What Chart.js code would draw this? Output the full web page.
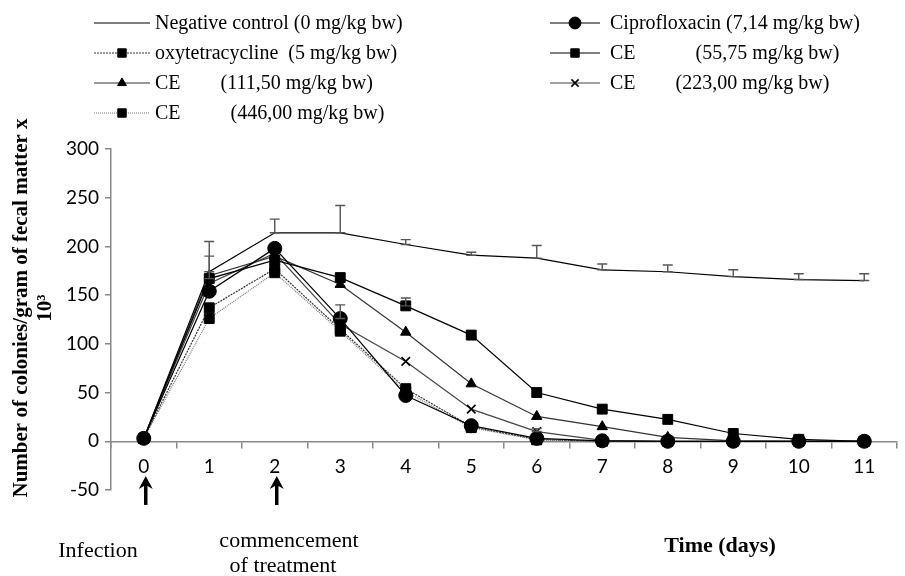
<!DOCTYPE html>
<html>
<head>
<meta charset="utf-8">
<script src="https://cdn.jsdelivr.net/npm/chart.js@4"></script>
<style>
  html, body { margin: 0; padding: 0; background: #fff; }
  #wrap { width: 905px; height: 576px; }
</style>
</head>
<body>
<div id="wrap"><canvas id="chart" width="905" height="576"></canvas></div>
<script>
// days on the x axis
const days = ['0', '1', '2', '3', '4', '5', '6', '7', '8', '9', '10', '11'];

// colonies / g of faecal matter x 10^3
const negControl = [3, 174, 214, 214, 202, 191, 188, 176, 174, 169, 166, 165];
const negControlErr = [0, 31, 14, 28, 5, 3, 13, 6, 7, 7, 6, 7];
const cipro = [3, 154, 198, 126, 47, 16, 3, 0.5, 0, 0, 0, 0];
const ciproErr = [0, 0, 0, 14, 0, 0, 0, 0, 0, 0, 0, 0];
const oxytetra = [3, 137, 177, 115, 54, 15, 2, 0, 0, 0, 0, 0];
const ce5575 = [3, 167, 186, 168, 139, 109, 50, 33, 22.5, 8, 2, 0];
const ce5575Err = [0, 23, 0, 0, 8, 0, 0, 0, 0, 0, 0, 0];
const ce11150 = [3, 170, 190, 161, 112, 59, 25.5, 15, 4, 0.5, 0, 0];
const ce223 = [3, 162, 193, 120, 82, 33, 10, 1, 0, 0, 0, 0];
const ce223Err = [0, 0, 0, 0, 0, 0, 3, 0, 0, 0, 0, 0];
const ce446 = [3, 126, 173, 113, 51, 14, 1.5, 0, 0, 0, 0, 0];

const yTicks = { min: -50, max: 300, step: 50 };

const serif = '"Liberation Serif", "Times New Roman", serif';
const sans = 'Lato, "Open Sans", sans-serif';

// legend drawn by hand in two columns, same order as the figure
const legendCols = [
    { lineFrom: 94, lineTo: 150, textX: 155, items: [0, 2, 4, 6] },
    { lineFrom: 550, lineTo: 600, textX: 610, items: [1, 3, 5] }
];
const legendRowY = [23, 53, 83, 113];

const twoColLegend = {
    id: 'twoColLegend',
    afterDraw(chart) {
        const ctx = chart.ctx;
        ctx.save();
        legendCols.forEach(col => {
            col.items.forEach((dsIndex, row) => {
                const ds = chart.data.datasets[dsIndex];
                const y = legendRowY[row];
                ctx.strokeStyle = ds.borderColor;
                ctx.lineWidth = ds.borderWidth;
                ctx.setLineDash(ds.borderDash || []);
                ctx.beginPath();
                ctx.moveTo(col.lineFrom, y);
                ctx.lineTo(col.lineTo, y);
                ctx.stroke();
                ctx.setLineDash([]);
                if (ds.pointRadius > 0) {
                    ctx.fillStyle = '#000';
                    ctx.strokeStyle = '#000';
                    ctx.lineWidth = ds.pointBorderWidth || 1;
                    Chart.helpers.drawPoint(ctx, {
                        pointStyle: ds.pointStyle,
                        radius: ds.pointRadius * 0.85,
                        rotation: 0,
                        borderWidth: ds.pointBorderWidth || 1
                    }, (col.lineFrom + col.lineTo) / 2, y);
                }
                ctx.fillStyle = '#000';
                ctx.font = '20px ' + serif;
                ctx.textAlign = 'left';
                ctx.textBaseline = 'middle';
                ctx.fillText(ds.label, col.textX, y + 1);
            });
        });
        ctx.restore();
    }
};

// upward-only error bars with a cap
const errorBars = {
    id: 'errorBars',
    afterDatasetsDraw(chart) {
        const ctx = chart.ctx;
        const yScale = chart.scales.y;
        ctx.save();
        ctx.strokeStyle = '#555';
        ctx.lineWidth = 1.4;
        chart.data.datasets.forEach((ds, i) => {
            if (!ds.errors) return;
            const meta = chart.getDatasetMeta(i);
            ds.errors.forEach((e, j) => {
                if (!e) return;
                const pt = meta.data[j];
                const top = yScale.getPixelForValue(ds.data[j] + e);
                ctx.beginPath();
                ctx.moveTo(pt.x, pt.y);
                ctx.lineTo(pt.x, top);
                ctx.moveTo(pt.x - 5, top);
                ctx.lineTo(pt.x + 5, top);
                ctx.moveTo(pt.x - 5, pt.y);
                ctx.lineTo(pt.x + 5, pt.y);
                ctx.stroke();
            });
        });
        ctx.restore();
    }
};

// y title, arrows and notes under the axis
const annotations = {
    id: 'annotations',
    afterDraw(chart) {
        const ctx = chart.ctx;
        const x = chart.scales.x;
        ctx.save();
        ctx.fillStyle = '#000';

        // y axis title (two lines, rotated)
        ctx.translate(0, 308);
        ctx.rotate(-Math.PI / 2);
        ctx.textAlign = 'center';
        ctx.textBaseline = 'middle';
        ctx.font = 'bold 21px ' + serif;
        ctx.fillText('Number of colonies/gram of fecal matter x', 0, 22);
        ctx.fillText('10³', 0, 46);
        ctx.setTransform(1, 0, 0, 1, 0, 0);

        // arrows under day 0 and day 2
        ['0', '2'].forEach(d => {
            const ax = x.getPixelForValue(days.indexOf(d)) + 2;
            ctx.strokeStyle = '#000';
            ctx.fillStyle = '#000';
            ctx.lineWidth = 3.5;
            ctx.beginPath();
            ctx.moveTo(ax, 505);
            ctx.lineTo(ax, 484);
            ctx.stroke();
            ctx.beginPath();
            ctx.moveTo(ax - 7, 489);
            ctx.lineTo(ax, 476);
            ctx.lineTo(ax + 7, 489);
            ctx.lineTo(ax, 485);
            ctx.closePath();
            ctx.fill();
        });

        ctx.fillStyle = '#000';
        ctx.font = '22px ' + serif;
        ctx.textAlign = 'center';
        ctx.fillText('Infection', 98, 551);
        ctx.fillText('commencement', 289, 541);
        ctx.fillText('of treatment', 283, 566);
        ctx.font = 'bold 22px ' + serif;
        ctx.fillText('Time (days)', 720, 546);
        ctx.restore();
    }
};

function series(label, data, opts) {
    return Object.assign({
        label: label,
        data: data,
        borderColor: '#000',
        borderWidth: 1.2,
        backgroundColor: '#000',
        pointBackgroundColor: '#000',
        pointBorderColor: '#000',
        pointBorderWidth: 1,
        pointRadius: 6,
        pointHoverRadius: 6,
        tension: 0,
        fill: false
    }, opts);
}

const datasets = [
    series('Negative control (0 mg/kg bw)', negControl, { pointRadius: 0, errors: negControlErr }),
    series('Ciprofloxacin (7,14 mg/kg bw)', cipro, { pointStyle: 'circle', pointRadius: 7, errors: ciproErr }),
    series('oxytetracycline  (5 mg/kg bw)', oxytetra, { pointStyle: 'rect', pointRadius: 7, borderColor: '#333', borderDash: [2, 1] }),
    series('CE            (55,75 mg/kg bw)', ce5575, { pointStyle: 'rect', pointRadius: 7, errors: ce5575Err }),
    series('CE        (111,50 mg/kg bw)', ce11150, { pointStyle: 'triangle', pointRadius: 6, borderColor: '#333' }),
    series('CE        (223,00 mg/kg bw)', ce223, { pointStyle: 'crossRot', pointRadius: 6, pointBorderWidth: 1.6, borderColor: '#444', errors: ce223Err }),
    series('CE          (446,00 mg/kg bw)', ce446, { pointStyle: 'rect', pointRadius: 7, borderColor: '#777', borderDash: [1, 1] })
];

new Chart(document.getElementById('chart'), {
    type: 'line',
    data: { labels: days, datasets: datasets },
    options: {
        responsive: false,
        animation: false,
        layout: { padding: { left: 0, top: 149, right: 8, bottom: 86 } },
        plugins: {
            legend: { display: false },
            tooltip: { enabled: false }
        },
        scales: {
            x: {
                type: 'category',
                position: { y: 0 },
                offset: true,
                grid: { display: true, drawOnChartArea: false, offset: true, tickLength: 6, color: '#888', lineWidth: 1.5 },
                border: { display: true, color: '#888', width: 1.5 },
                ticks: { color: '#000', font: { family: sans, size: 19 }, padding: 8, maxRotation: 0 }
            },
            y: {
                min: yTicks.min,
                max: yTicks.max,
                afterFit(scale) { scale.width = 111; },
                grid: { display: true, drawOnChartArea: false, tickLength: 6, color: '#888', lineWidth: 1.5 },
                border: { display: true, color: '#888', width: 1.5 },
                ticks: { stepSize: yTicks.step, color: '#000', font: { family: sans, size: 19 }, padding: 6 }
            }
        }
    },
    plugins: [twoColLegend, errorBars, annotations]
});
</script>
</body>
</html>
